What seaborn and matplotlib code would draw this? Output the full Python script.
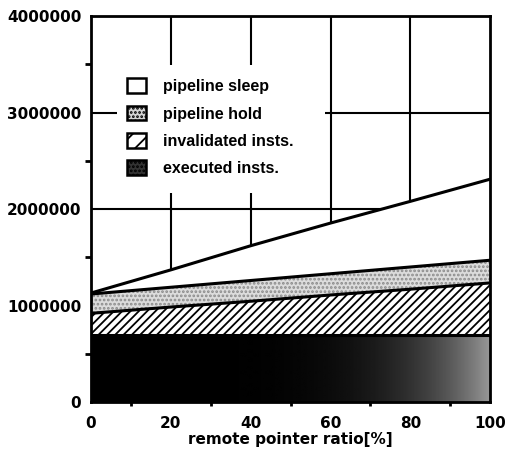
import numpy as np
import pandas as pd
import matplotlib
matplotlib.use("Agg")
import matplotlib.pyplot as plt
import seaborn as sns
from matplotlib.patches import Patch, Rectangle
from matplotlib.ticker import MultipleLocator

# 讀圖估計的數值 (remote pointer ratio %, 累積高度)
ratio = [0, 20, 40, 60, 80, 100]
executed = [700000, 700000, 700000, 700000, 700000, 700000]
invalidated_top = [920000, 985000, 1045000, 1110000, 1170000, 1235000]
hold_top = [1120000, 1190000, 1260000, 1330000, 1400000, 1470000]
sleep_top = [1130000, 1370000, 1620000, 1855000, 2080000, 2310000]

labels = ["pipeline sleep", "pipeline hold", "invalidated insts.", "executed insts."]
yticks = [0, 1000000, 2000000, 3000000, 4000000]
xticks = [0, 20, 40, 60, 80, 100]

sns.set_style("white")
plt.rcParams['font.family'] = ['DejaVu Sans']
plt.rcParams['font.weight'] = 'bold'
plt.rcParams['hatch.linewidth'] = 1.3
for k in ['text.color', 'axes.labelcolor', 'xtick.color', 'ytick.color']:
    plt.rcParams[k] = 'black'

df = pd.DataFrame({"ratio": ratio, "executed": executed, "invalidated": invalidated_top,
                   "hold": hold_top, "sleep": sleep_top})

fig = plt.figure(figsize=(5.08, 4.58), dpi=100)
ax = fig.add_axes([0.179, 0.122, 0.786, 0.843])

# 格線在最底層
for v in [20, 40, 60, 80]:
    ax.axvline(v, color="black", lw=1.5, zorder=0)
for v in yticks[1:]:
    ax.axhline(v, color="black", lw=1.5, zorder=0)

# 圖例底下的白底
ax.add_patch(Rectangle((0.065, 0.541), 0.521, 0.332, transform=ax.transAxes,
                       facecolor="white", edgecolor="none", zorder=0.5))

# 堆疊面積
ax.fill_between(df.ratio, df.hold, df.sleep, facecolor="white", edgecolor="none", zorder=1)
ax.fill_between(df.ratio, df.invalidated, df.hold, facecolor="#dcdcdc", edgecolor="#8a8a8a",
                hatch="....", lw=0, zorder=1)
ax.fill_between(df.ratio, df.executed, df.invalidated, facecolor="white", edgecolor="black",
                hatch="////", lw=0, zorder=1)
poly = ax.fill_between(df.ratio, 0, df.executed, facecolor="none", edgecolor="none", zorder=1)
t = np.linspace(0, 1, 256).reshape(1, -1)
grad = 0.6 * t ** 5
img = ax.imshow(grad, cmap="gray", vmin=0, vmax=1, aspect="auto",
                extent=[0, 100, 0, max(executed)], zorder=1, interpolation="bilinear")
img.set_clip_path(poly.get_paths()[0], transform=ax.transData)

# 邊界線
for col in ["executed", "invalidated", "hold", "sleep"]:
    sns.lineplot(data=df, x="ratio", y=col, ax=ax, color="black", lw=2.2, zorder=3)

ax.set_xlim(0, 100)
ax.set_ylim(0, 4000000)
ax.set_xticks(xticks)
ax.set_yticks(yticks)
ax.set_yticklabels([str(v) for v in yticks])
ax.xaxis.set_minor_locator(MultipleLocator(10))
ax.yaxis.set_minor_locator(MultipleLocator(500000))
ax.tick_params(axis="x", which="major", direction="out", length=5, width=2, labelsize=11, pad=5)
ax.tick_params(axis="x", which="minor", direction="out", length=3, width=2, bottom=True)
ax.tick_params(axis="y", which="major", direction="inout", length=10, width=1.8, labelsize=11, pad=2)
ax.tick_params(axis="y", which="minor", direction="out", length=4, width=2, left=True)
ax.set_xlabel("remote pointer ratio[%]", fontsize=11, fontweight="bold", labelpad=1)
ax.set_ylabel("")
for s in ax.spines.values():
    s.set_linewidth(2)
    s.set_color("black")
    s.set_zorder(5)

handles = [
    Patch(facecolor="white", edgecolor="black", lw=1.8),
    Patch(facecolor="#d4d4d4", edgecolor="black", hatch="....", lw=1.8),
    Patch(facecolor="white", edgecolor="black", hatch="//", lw=1.8),
    Patch(facecolor="#333333", edgecolor="black", hatch="....", lw=1.8),
]
leg = ax.legend(handles, labels, loc="upper left", bbox_to_anchor=(0.052, 0.878), frameon=False,
                prop={"family": ["Liberation Sans", "DejaVu Sans"], "weight": "bold", "size": 11.5},
                handlelength=1.2, handleheight=1.05, handletextpad=1.05,
                labelspacing=0.72, borderpad=0.45)
leg.set_zorder(4)

fig.savefig("out.png", dpi=100)
